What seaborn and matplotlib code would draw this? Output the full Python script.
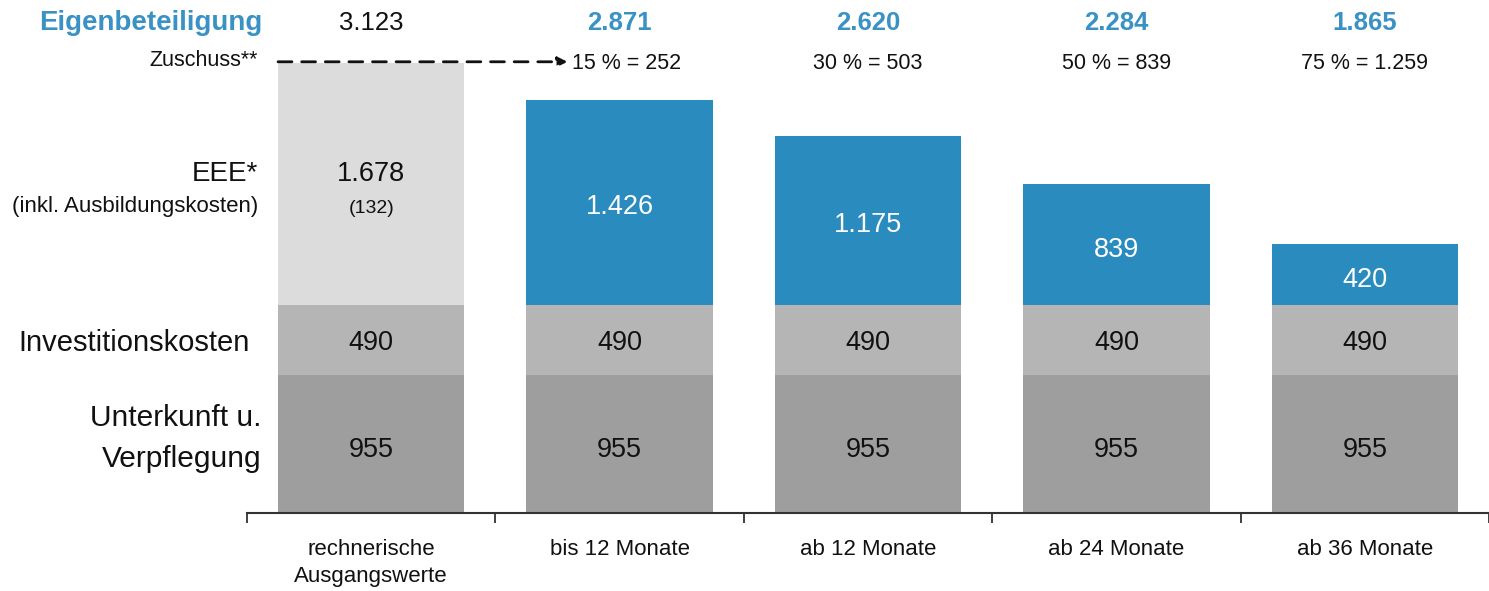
import matplotlib
matplotlib.use("Agg")
import matplotlib.pyplot as plt
import numpy as np
import seaborn as sns

categories = ["rechnerische\nAusgangswerte", "bis 12 Monate", "ab 12 Monate", "ab 24 Monate", "ab 36 Monate"]
unterkunft = [955, 955, 955, 955, 955]
invest = [490, 490, 490, 490, 490]
eee = [1678, 1426, 1175, 839, 420]
zuschuss_pct = [0, 15, 30, 50, 75]
zuschuss = [0, 252, 503, 839, 1259]
ausbildung = 132

def de(v):
    return f"{v:,}".replace(",", ".")

sns.set_theme(style="white")
plt.rcParams['font.family'] = ['Liberation Sans', 'DejaVu Sans']

BLUE = "#2a8bbe"
BLUE_TXT = "#3a92c4"
DARK = "#9e9e9e"
MID = "#b5b5b5"
LIGHT = "#dcdcdc"
INK = "#111111"

low = np.array(unterkunft)
mid = low + np.array(invest)
total = mid + np.array(eee)

fig = plt.figure(figsize=(14.89, 5.91), dpi=100)
ax = fig.add_axes([247 / 1489, 1 - 513 / 591, 1 - 247 / 1489, 513 / 591])

top_colors = [LIGHT] + [BLUE] * 4
# stacked bars drawn from the tallest layer downwards
sns.barplot(x=categories, y=total, hue=categories, palette=top_colors, legend=False,
            width=0.75, saturation=1, linewidth=0, ax=ax)
sns.barplot(x=categories, y=mid, color=MID, width=0.75, saturation=1, linewidth=0, ax=ax)
sns.barplot(x=categories, y=low, color=DARK, width=0.75, saturation=1, linewidth=0, ax=ax)

ax.set_xlim(-0.5, 4.47)
ax.set_ylim(0, 3562)
for s in ["top", "right", "left"]:
    ax.spines[s].set_visible(False)
ax.spines["bottom"].set_color("#333333")
ax.spines["bottom"].set_linewidth(1.5)
ax.set_yticks([])
ax.set_ylabel("")

ax.set_xticks(np.arange(-0.5, 4.6, 1.0))
ax.set_xticklabels([])
ax.set_xticks(np.arange(5), minor=True)
ax.set_xticklabels(categories, minor=True, fontsize=16, color=INK, linespacing=1.35)
ax.tick_params(axis="x", which="major", direction="out", length=7, width=1.3, color="#333333", bottom=True)
ax.tick_params(axis="x", which="minor", length=0, pad=19)

# segment labels
for i in range(5):
    ax.text(i, low[i] / 2 - 40, str(unterkunft[i]), ha="center", va="center", fontsize=19.5, color=INK)
    ax.text(i, low[i] + invest[i] / 2 - 20, str(invest[i]), ha="center", va="center", fontsize=19.5, color=INK)
    if i == 0:
        ax.text(i, mid[i] + eee[i] / 2 + 70, de(eee[i]), ha="center", va="center", fontsize=19.5, color=INK)
        ax.text(i, mid[i] + eee[i] / 2 - 170, f"({ausbildung})", ha="center", va="center", fontsize=14, color=INK)
    else:
        ax.text(i, mid[i] + eee[i] / 2 - 35, de(eee[i]), ha="center", va="center", fontsize=19.5, color="white")

# totals (Eigenbeteiligung) and Zuschuss
for i in range(5):
    ax.text(i, 3400, de(int(total[i])), ha="center", va="center", fontsize=18.5,
            color=INK if i == 0 else BLUE_TXT, fontweight="normal" if i == 0 else "bold", clip_on=False)
    if i > 0:
        ax.text(i + (0.03 if i == 1 else 0), 3122, f"{zuschuss_pct[i]} % = {de(zuschuss[i])}",
                ha="center", va="center", fontsize=15.5, color=INK)

ax.annotate("", xy=(0.79, total[0] + 10), xytext=(-0.375, total[0] + 10),
            arrowprops=dict(arrowstyle="-|>", linestyle=(0, (5, 3.5)), color=INK, lw=2,
                            mutation_scale=14, shrinkA=0, shrinkB=0))

# left-hand row labels
lx = -0.44
ax.text(lx, 3400, "Eigenbeteiligung", ha="right", va="center", fontsize=20, color=BLUE_TXT,
        fontweight="bold", clip_on=False)
ax.text(lx - 0.015, 3140, "Zuschuss**", ha="right", va="center", fontsize=15.5, color=INK, clip_on=False)
ax.text(lx - 0.015, 2355, "EEE*", ha="right", va="center", fontsize=20, color=INK, clip_on=False)
ax.text(lx - 0.015, 2125, "(inkl. Ausbildungskosten)", ha="right", va="center", fontsize=16, color=INK, clip_on=False)
ax.text(lx - 0.05, 1180, "Investitionskosten", ha="right", va="center", fontsize=21, color=INK, clip_on=False)
ax.text(lx, 520, "Unterkunft u.\nVerpflegung", ha="right", va="center", fontsize=21.5, color=INK,
        multialignment="right", linespacing=1.6, clip_on=False)

fig.savefig("out.png", dpi=100)
